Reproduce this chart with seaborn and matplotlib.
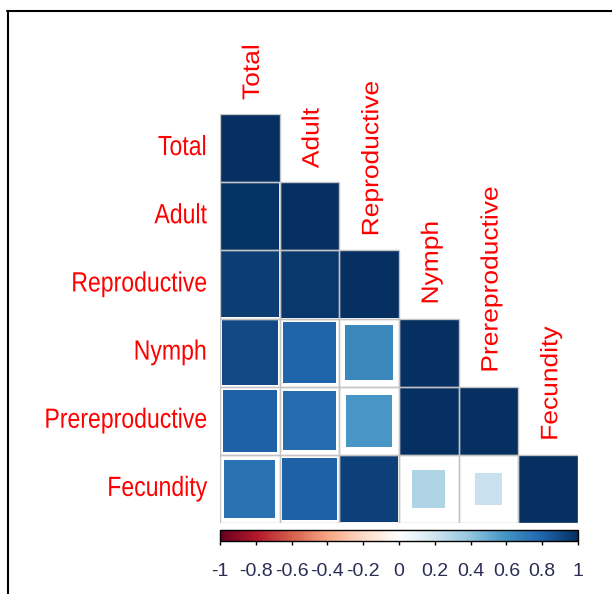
import numpy as np
import pandas as pd
import matplotlib
matplotlib.use("Agg")
import matplotlib.pyplot as plt
from matplotlib.colors import LinearSegmentedColormap, ListedColormap, Normalize
from matplotlib.colorbar import ColorbarBase
from matplotlib.path import Path
from matplotlib.lines import Line2D
from matplotlib.patches import Rectangle
from matplotlib.patheffects import AbstractPathEffect
from matplotlib.transforms import Affine2D
import seaborn as sns

# Variables and lower-triangle correlation coefficients (row by row)
variables = ["Total", "Adult", "Reproductive", "Nymph", "Prereproductive", "Fecundity"]
r_total = []
r_adult = [0.98]
r_reproductive = [0.94, 0.96]
r_nymph = [0.90, 0.80, 0.64]
r_prereproductive = [0.82, 0.76, 0.58, 0.99]
r_fecundity = [0.74, 0.82, 0.93, 0.30, 0.22]

colorbar_ticks = [-1, -0.8, -0.6, -0.4, -0.2, 0, 0.2, 0.4, 0.6, 0.8, 1]
colorbar_labels = ["-1", "-0.8", "-0.6", "-0.4", "-0.2", "0", "0.2", "0.4", "0.6", "0.8", "1"]

# Diverging red-white-blue ramp (200 steps)
ramp = ["#67001F", "#B2182B", "#D6604D", "#F4A582", "#FDDBC7", "#FFFFFF",
        "#D1E5F0", "#92C5DE", "#4393C3", "#2166AC", "#053061"]
cmap = LinearSegmentedColormap.from_list("corr_rdbu", ramp, N=200)


class GlyphStretch(AbstractPathEffect):
    """Scale text glyphs along / across the reading direction."""

    def __init__(self, along=1.0, across=1.0, anchor="start"):
        super().__init__()
        self.along, self.across, self.anchor = along, across, anchor

    def draw_path(self, renderer, gc, tpath, affine, rgbFace=None):
        ext = tpath.get_extents()
        x0 = ext.x1 if self.anchor == "end" else ext.x0
        y0 = 36.0  # roughly half the cap height in text-path units
        stretch = Affine2D().translate(-x0, -y0).scale(self.along, self.across).translate(x0, y0)
        renderer.draw_path(gc, tpath, stretch + affine, rgbFace)


n = len(variables)
corr = np.eye(n)
for i, row in enumerate([r_total, r_adult, r_reproductive, r_nymph, r_prereproductive, r_fecundity]):
    for j, v in enumerate(row):
        corr[i, j] = v
        corr[j, i] = v

records = []
for i in range(n):
    for j in range(i + 1):
        records.append({"x": j + 0.5, "y": i + 0.5, "r": corr[i, j], "absr": abs(corr[i, j])})
df = pd.DataFrame(records)

sns.set_style("white")
plt.rcParams["font.family"] = ["Liberation Sans", "DejaVu Sans"]

fig = plt.figure(figsize=(6.12, 5.94), dpi=100)
W, H = 612.0, 594.0
left_px, right_px, top_px, bottom_px = 220.0, 578.0, 114.0, 523.0
ax = fig.add_axes([left_px / W, 1 - bottom_px / H, (right_px - left_px) / W, (bottom_px - top_px) / H])

# Axes frame for the matrix (transparent cells, labels on the rows)
upper_mask = np.triu(np.ones((n, n), dtype=bool), k=1)
sns.heatmap(np.zeros((n, n)), mask=upper_mask, cmap=ListedColormap([(1, 1, 1, 0)]),
            cbar=False, linewidths=0, ax=ax,
            xticklabels=False, yticklabels=variables, square=False)

# Grey grid around the lower-triangle cells
for i in range(n):
    for j in range(i + 1):
        ax.add_patch(Rectangle((j, i), 1, 1, facecolor="none", edgecolor="#C4C4C4",
                               linewidth=1.0, zorder=3))

# Squares sized by sqrt(|r|), coloured by r
cell_w_px = (right_px - left_px) / n
cell_h_px = (bottom_px - top_px) / n
cell_h_pt = cell_h_px * 72.0 / fig.dpi
hw, hh = cell_w_px / 2, cell_h_px / 2
rect = Path([(-hw, -hh), (hw, -hh), (hw, hh), (-hw, hh), (-hw, -hh)],
            [Path.MOVETO, Path.LINETO, Path.LINETO, Path.LINETO, Path.CLOSEPOLY])
sns.scatterplot(data=df, x="x", y="y", hue="r", size="absr",
                palette=cmap, hue_norm=(-1, 1),
                sizes=(0, cell_h_pt ** 2), size_norm=(0, 1),
                marker=rect, linewidth=0, legend=False, ax=ax, zorder=2)
ax.set_xlim(0, n)
ax.set_ylim(n, 0)
ax.set_xlabel("")
ax.set_ylabel("")
for s in ax.spines.values():
    s.set_visible(False)

# Row labels on the left
ax.tick_params(axis="y", length=0, pad=9.5, labelsize=20, labelcolor="red")
for t in ax.get_yticklabels():
    t.set_rotation(0)
    t.set_path_effects([GlyphStretch(along=0.83, across=1.0, anchor="end")])
ax.tick_params(axis="x", length=0)

# Column labels above the diagonal cells
gap = 14.0 / cell_h_px
for k, name in enumerate(variables):
    ax.text(k + 0.5 + 0.05, k - gap, name, rotation=90, ha="center", va="bottom",
            color="red", fontsize=19, clip_on=False,
            path_effects=[GlyphStretch(along=1.0, across=0.9, anchor="start")])

# Colour legend bar
cb_top, cb_bot = 530.0, 541.0
cax = fig.add_axes([left_px / W, 1 - cb_bot / H, (right_px - left_px) / W, (cb_bot - cb_top) / H])
cb = ColorbarBase(cax, cmap=cmap, norm=Normalize(-1, 1), orientation="horizontal",
                  ticks=colorbar_ticks)
cb.ax.set_xticklabels(colorbar_labels)
cb.outline.set_linewidth(1.0)
cb.outline.set_edgecolor("black")
cb.ax.tick_params(axis="x", length=3, width=1, color="black", pad=13,
                  labelsize=14, labelcolor="#2b2d55")

# Frame lines at the top and left of the figure
fig.add_artist(Line2D([8 / W, 8 / W], [1 - 11 / H, 0], color="black", lw=1.5,
                      transform=fig.transFigure))
fig.add_artist(Line2D([7 / W, 1], [1 - 11 / H, 1 - 11 / H], color="black", lw=1.5,
                      transform=fig.transFigure))

fig.savefig("out.png", dpi=100, facecolor="white")
